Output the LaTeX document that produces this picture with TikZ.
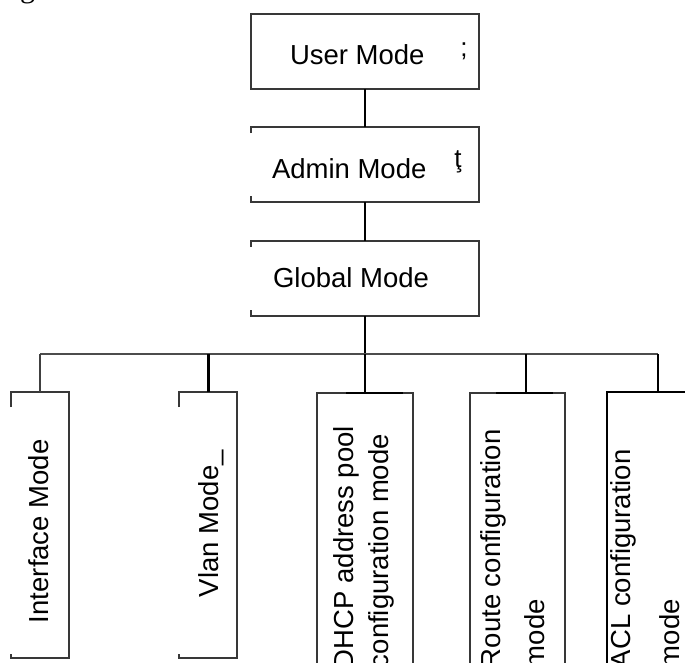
\documentclass[tikz,border=0pt]{standalone}
\usepackage{fontspec}
\setmainfont{Liberation Sans}
\newfontfamily\captionserif{Liberation Serif}
\begin{document}
\begin{tikzpicture}[x=1pt,y=1pt,
  modebox/.style={rectangle, inner sep=0pt, outer sep=0pt},
  frame/.style={draw=black!78, line width=1.4pt},
  heavyframe/.style={draw=black, line width=2.2pt},
  tab/.style={draw=black, line width=2.6pt},
  lbl/.style={font=\fontsize{27.5}{33}\selectfont, inner sep=0pt, outer sep=0pt, anchor=base west},
  vlbl/.style={lbl, rotate=90},
  glyphmark/.style={font=\fontsize{26}{30}\selectfont, inner sep=0pt, outer sep=0pt},
  link/.style={draw=black, line width=2.4pt},
  bus/.style={draw=black!70, line width=1.5pt},
  thinlink/.style={draw=black!75, line width=1.5pt},
]
\useasboundingbox (0,0) rectangle (685,-662);
\fill[white] (0,0) rectangle (685,-662);

% caption fragment above the chart
\node[font=\captionserif\fontsize{30}{36}\selectfont, inner sep=0pt, anchor=base west] (cap) at (20,3) {g};

% ---- upper chain of modes ----
\node[modebox, minimum width=228pt, minimum height=75pt] (user)   at (365,-51.5)  {};
\node[modebox, minimum width=228pt, minimum height=75pt] (admin)  at (365,-164.5) {};
\node[modebox, minimum width=228pt, minimum height=75pt] (global) at (365,-278.5) {};

\draw[frame] (user.north west) rectangle (user.south east);
\draw[frame] ([yshift=-6pt]admin.north west) |- (admin.north east) |- (admin.south west) -- ++(0,6pt);
\draw[frame] ([yshift=-6pt]global.north west) |- (global.north east) |- (global.south west) -- ++(0,6pt);

\node[lbl] (userlbl)   at (290,-64.5) {User Mode};
\node[lbl] (adminlbl)  at (272,-178)  {Admin Mode};
\node[lbl] (globallbl) at (273,-287)  {Global Mode};
\node[glyphmark] (umark) at (464,-51) {;};
\node[glyphmark] (amark) at (458,-162) {ţ};

\draw[link] (user.south) -- (admin.north);
\draw[link] (admin.south) -- (global.north);

% ---- branch bus ----
\coordinate (bl) at (40,-354);
\coordinate (j)  at (365,-354);
\coordinate (br) at (658,-354);
\draw[link] (global.south) -- (j);
\draw[bus] (bl) -- (br);

% ---- sub-modes ----
\node[modebox, minimum width=58pt, minimum height=266pt] (iface) at (40,-525)  {};
\node[modebox, minimum width=58pt, minimum height=266pt] (vlan)  at (208,-525) {};
\node[modebox, minimum width=96pt, minimum height=290pt] (dhcp)  at (365,-538) {};
\node[modebox, minimum width=95pt, minimum height=290pt] (route) at (517.5,-538) {};
\node[modebox, minimum width=100pt, minimum height=290pt] (acl) at (657,-537) {};

\coordinate (rtop) at (526,-393);
\coordinate (atop) at (658,-392);

\draw[frame] ([yshift=-15pt]iface.north west) |- (iface.north east) |- (iface.south west) -- ++(0,4pt);
\draw[frame] ([yshift=-15pt]vlan.north west) |- (vlan.north east) |- (vlan.south west) -- ++(0,4pt);
\draw[frame] (dhcp.south west) |- (dhcp.north east) -- (dhcp.south east);
\draw[frame] (route.south west) |- (route.north east) -- (route.south east);
\draw[heavyframe] (acl.south west) |- (acl.north east);
\draw[tab] (346,-393) -- (403,-393);
\draw[tab] (496,-393) -- (553,-393);

\draw[thinlink] (bl) -- (iface.north);
\draw[link, line width=3pt] (vlan.north |- bl) -- (vlan.north);
\draw[link] (j) -- (dhcp.north);
\draw[link, line width=2.2pt] (rtop |- bl) -- (rtop);
\draw[link, line width=2.6pt] (br) -- (atop);

\node[vlbl] (ifacelbl) at (48,-623)  {Interface Mode};
\node[vlbl] (vlanlbl)  at (218,-597) {Vlan Mode\_};
\node[vlbl] (dhcpa) at (353,-669) {DHCP address pool};
\node[vlbl] (dhcpb) at (388,-668) {configuration mode};
\node[vlbl] (routea) at (500,-668) {Route configuration};
\node[vlbl] (routeb) at (544,-668) {mode};
\node[vlbl] (acla) at (630,-668) {ACL configuration};
\node[vlbl] (aclb) at (679,-668) {mode};
\end{tikzpicture}
\end{document}
